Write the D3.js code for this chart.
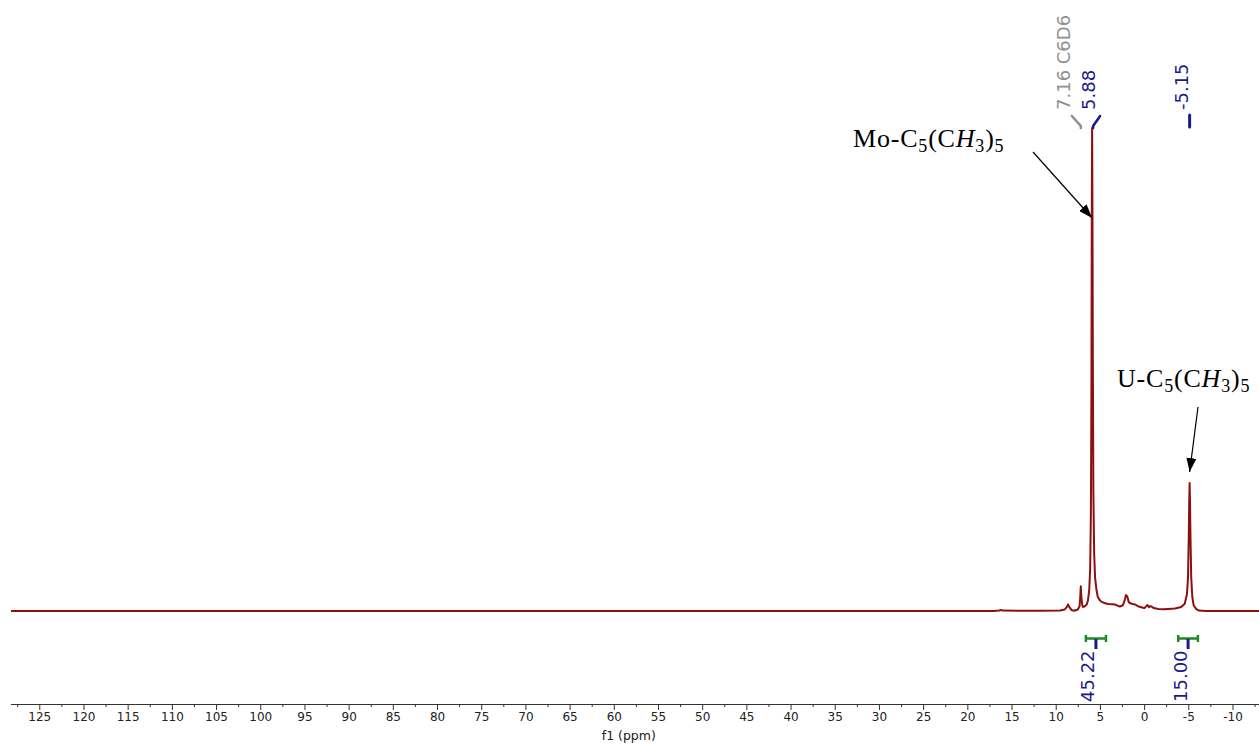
<!DOCTYPE html>
<html>
<head>
<meta charset="utf-8">
<script src="https://cdn.jsdelivr.net/npm/d3@7"></script>
<style>
  html, body { margin: 0; padding: 0; background: #fff; }
  svg { display: block; }
</style>
</head>
<body>
<svg id="chart" width="1259" height="745"></svg>
<script>
// 1H NMR spectrum in C6D6 — chemical shift (ppm) and relative intensity
const shiftPpm = [
  128.2, 17.0, 16.4, 16.2, 16.0, 12.0, 9.5, 9.0, 8.75, 8.6, 8.45, 8.2, 7.9,
  7.5, 7.3, 7.22, 7.16, 7.10, 7.0, 6.9, 6.7, 6.5, 6.35, 6.2, 6.1, 6.02, 5.96,
  5.92, 5.88, 5.84, 5.80, 5.74, 5.65, 5.55, 5.4, 5.24, 5.0, 4.82, 4.4, 4.07,
  3.6, 3.3, 3.0, 2.75, 2.4, 2.2, 2.05, 1.9, 1.75, 1.62, 1.3, 1.05, 0.7, 0.3,
  0.0, -0.2, -0.38, -0.55, -0.7, -0.84, -1.1, -1.6, -2.2, -2.7, -3.5, -4.2,
  -4.6, -4.85, -4.97, -5.05, -5.10, -5.15, -5.20, -5.25, -5.33, -5.45, -5.6,
  -5.9, -6.2, -7.0, -13.0
];
const intensity = [
  0, 0, 0.1, 0.2, 0.08, 0.05, 0.1, 0.3, 0.8, 1.35, 0.8, 0.2, 0.05,
  0.3, 1.0, 3.0, 5.1, 3.0, 1.2, 0.8, 1.0, 1.35, 2.2, 4.5, 9, 20, 45,
  80, 100, 82, 52, 25, 12, 7, 4.5, 2.9, 2.2, 1.9, 1.6, 1.45,
  1.4, 1.35, 1.1, 0.93, 1.2, 2.2, 3.3, 3.0, 1.9, 1.66, 1.45, 1.35, 1.0, 0.79,
  0.6, 0.9, 1.24, 0.8, 1.0, 0.93, 0.6, 0.41, 0.35, 0.41, 0.5, 0.83,
  1.5, 3.5, 7, 15, 22, 26.5, 22, 15, 7, 3, 1.2,
  0.4, 0.1, 0, 0
];

// Peak picking labels
const peakShifts = [7.16, 5.88, -5.15];
const peakLabels = ["7.16 C6D6", "5.88", "-5.15"];
const peakIsSolvent = [true, false, false];

// Integrals
const integralFrom = [6.7, -3.75];
const integralTo = [4.2, -6.2];
const integralValues = ["45.22", "15.00"];

// Axis ticks
const majorTicks = d3.range(125, -10.01, -5);
const minorTicks = d3.range(127.5, -12.51, -5);

// Assignments
const assignPeaks = [5.88, -5.15];
const assignMetal = ["Mo", "U"];

const svg = d3.select("#chart");

const x = d3.scaleLinear().domain([128.2, -13.0]).range([11, 1259]);
const y = d3.scaleLinear().domain([0, 100]).range([611, 128]);

const axisY = 704;
const specColor = "#8c1010";
const labelBlue = "#1a1a8c";
const labelGray = "#8f8f8f";
const integralGreen = "#1f8a1f";

// spectrum trace
const pts = shiftPpm.map((p, i) => [p, intensity[i]]);
svg.append("path")
  .datum(pts)
  .attr("fill", "none")
  .attr("stroke", specColor)
  .attr("stroke-width", 2)
  .attr("stroke-linejoin", "round")
  .attr("d", d3.line().x(d => x(d[0])).y(d => y(d[1])));

// x axis: major ticks with labels, minor ticks in between
const axisG = svg.append("g").attr("transform", `translate(0,${axisY})`);
axisG.call(d3.axisBottom(x).tickValues(majorTicks).tickSize(6).tickPadding(2)
  .tickFormat(d => String(Math.round(d))));
axisG.select(".domain").attr("stroke", "#333").attr("d", `M${x.range()[0]},0.5H${x.range()[1]}`);
axisG.selectAll(".tick line").attr("stroke", "#333");
axisG.selectAll(".tick text")
  .attr("font-family", "DejaVu Sans, Verdana, sans-serif")
  .attr("font-size", 12)
  .attr("fill", "#222");
const minorG = svg.append("g").attr("transform", `translate(0,${axisY})`);
minorG.call(d3.axisBottom(x).tickValues(minorTicks).tickSize(3).tickFormat(""));
minorG.select(".domain").remove();
minorG.selectAll(".tick line").attr("stroke", "#333");

svg.append("text")
  .attr("x", x(58.3))
  .attr("y", 740)
  .attr("text-anchor", "middle")
  .attr("font-family", "DejaVu Sans, Verdana, sans-serif")
  .attr("font-size", 12.5)
  .attr("fill", "#222")
  .text("f1 (ppm)");

// peak labels with connectors
const labelFont = "DejaVu Sans, Verdana, sans-serif";
const labelOffsets = [-11, 3, -2];     // label baseline relative to peak x
const connTopOffsets = [-9, 8, 0];     // connector top relative to peak x
peakShifts.forEach((p, i) => {
  const px = x(p);
  const col = peakIsSolvent[i] ? labelGray : labelBlue;
  svg.append("text")
    .attr("transform", `translate(${px + labelOffsets[i]},110) rotate(-90)`)
    .attr("font-family", labelFont)
    .attr("font-size", 18)
    .attr("fill", col)
    .text(peakLabels[i]);
  const topX = px + connTopOffsets[i];
  const pathD = (i === 2)
    ? `M${px},115V127`
    : `M${topX},116L${px + (topX > px ? 1 : 0)},126V128`;
  svg.append("path")
    .attr("d", pathD)
    .attr("fill", "none")
    .attr("stroke", col)
    .attr("stroke-width", i === 2 ? 3 : 2.5)
    .attr("stroke-linecap", "round");
});

// integrals: green range bar, blue tick and rotated value
integralValues.forEach((v, i) => {
  const x0 = x(integralFrom[i]), x1 = x(integralTo[i]);
  const xm = (x0 + x1) / 2;
  const g = svg.append("g");
  g.append("path")
    .attr("d", `M${x0},638.5H${x1}M${x0 + 1},635V642M${x1 - 1},635V642`)
    .attr("stroke", integralGreen)
    .attr("stroke-width", 2.5)
    .attr("fill", "none");
  g.append("path")
    .attr("d", `M${xm},639V649`)
    .attr("stroke", labelBlue)
    .attr("stroke-width", 3);
  g.append("text")
    .attr("transform", `translate(${xm - 1.5},702) rotate(-90)`)
    .attr("font-family", labelFont)
    .attr("font-size", 18)
    .attr("fill", labelBlue)
    .text(v);
});

// assignment annotations with arrows
svg.append("defs").append("marker")
  .attr("id", "arrowhead")
  .attr("viewBox", "0 0 14 10")
  .attr("refX", 14).attr("refY", 5)
  .attr("markerWidth", 14).attr("markerHeight", 10)
  .attr("markerUnits", "userSpaceOnUse")
  .attr("orient", "auto")
  .append("path").attr("d", "M0,0L14,5L0,10Z").attr("fill", "#000");

function formula(sel, metal) {
  sel.append("tspan").text(metal + "-C");
  sel.append("tspan").attr("font-size", 18).attr("dy", 5).text("5");
  sel.append("tspan").attr("dy", -5).text("(C");
  sel.append("tspan").attr("font-style", "italic").text("H");
  sel.append("tspan").attr("font-size", 18).attr("dy", 5).text("3");
  sel.append("tspan").attr("dy", -5).text(")");
  sel.append("tspan").attr("font-size", 18).attr("dy", 5).text("5");
}

const annTextPos = [[853, 147], [1117, 387]];
const annArrowStart = [[1033, 152], [1198, 407]];
const annArrowTipY = [218, y(26.5) - 11];
assignPeaks.forEach((p, i) => {
  const t = svg.append("text")
    .attr("x", annTextPos[i][0]).attr("y", annTextPos[i][1])
    .attr("font-family", "Liberation Serif, Times New Roman, serif")
    .attr("font-size", 26)
    .attr("letter-spacing", 0.8)
    .attr("fill", "#000");
  formula(t, assignMetal[i]);
  svg.append("line")
    .attr("x1", annArrowStart[i][0]).attr("y1", annArrowStart[i][1])
    .attr("x2", x(p)).attr("y2", annArrowTipY[i])
    .attr("stroke", "#000")
    .attr("stroke-width", 1.2)
    .attr("marker-end", "url(#arrowhead)");
});
</script>
</body>
</html>
